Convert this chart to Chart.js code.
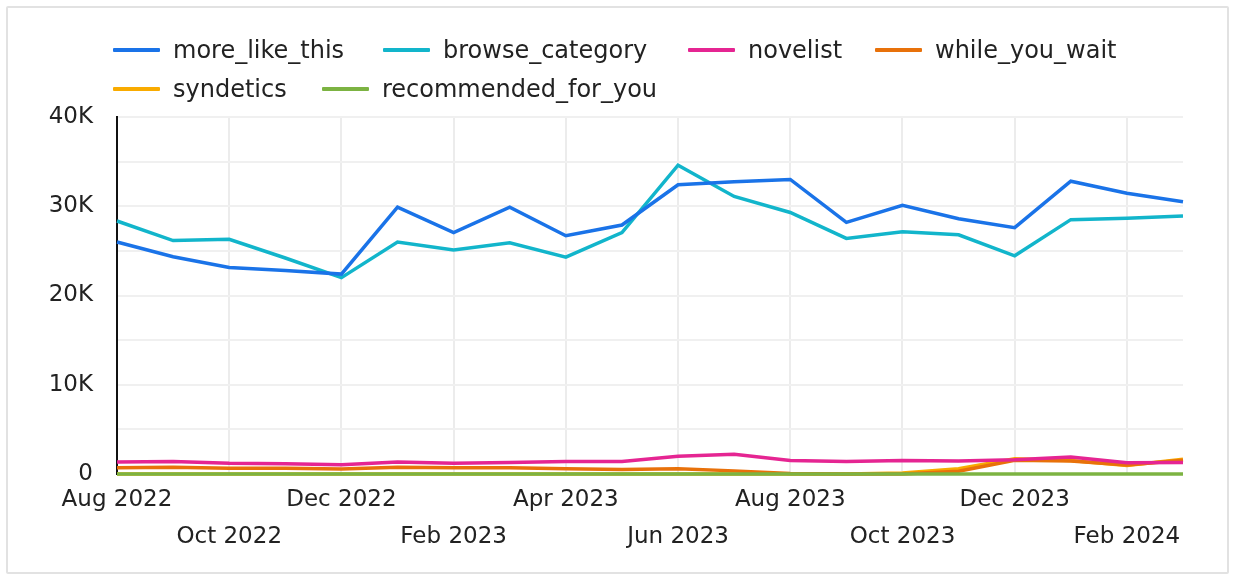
<!DOCTYPE html>
<html>
<head>
<meta charset="utf-8">
<script src="https://cdn.jsdelivr.net/npm/chart.js@4/dist/chart.umd.min.js"></script>
<style>
  html, body { margin: 0; padding: 0; background: #ffffff; }
  body { width: 1235px; height: 578px; position: relative; overflow: hidden; font-family: "DejaVu Sans", sans-serif; }
  #frame { position: absolute; left: 6px; top: 6px; width: 1219px; height: 564px; border: 2px solid #e2e2e2; border-radius: 2px; pointer-events: none; }
  #wrap { position: absolute; left: 0; top: 0; width: 1235px; height: 578px; }
  #legend { position: absolute; left: 0; top: 0; width: 1235px; height: 110px; }
  .item { position: absolute; display: flex; align-items: center; font-size: 24px; color: #222; white-space: nowrap; }
  .swatch { width: 47px; height: 4px; margin-right: 13px; border-radius: 1px; }
</style>
</head>
<body>
<div id="wrap"><canvas id="c" width="1235" height="578"></canvas></div>
<div id="legend"></div>
<div id="frame"></div>
<script>
const months = ["Aug 2022","Sep 2022","Oct 2022","Nov 2022","Dec 2022","Jan 2023","Feb 2023","Mar 2023","Apr 2023","May 2023","Jun 2023","Jul 2023","Aug 2023","Sep 2023","Oct 2023","Nov 2023","Dec 2023","Jan 2024","Feb 2024","Mar 2024"];
const moreLikeThis = [26000,24350,23150,22800,22400,29900,27050,29900,26700,27900,32400,32750,33000,28200,30100,28600,27600,32800,31450,30500];
const browseCategory = [28350,26150,26300,24200,22000,26000,25100,25900,24300,27050,34600,31100,29300,26400,27150,26800,24450,28500,28650,28900];
const novelist = [1350,1400,1200,1150,1050,1350,1200,1300,1400,1400,2000,2200,1500,1400,1500,1450,1600,1900,1250,1300];
const whileYouWait = [700,750,650,650,550,750,700,700,600,500,600,350,50,0,0,300,1550,1450,1000,1550];
const syndetics = [0,0,0,0,0,0,0,0,0,0,0,0,0,0,100,600,1700,1500,950,1650];
const recommendedForYou = [0,0,0,0,0,0,0,0,0,0,0,0,0,0,0,0,0,0,0,0];
const seriesNames = ["more_like_this","browse_category","novelist","while_you_wait","syndetics","recommended_for_you"];
const seriesColors = ["#1A73E8","#12B5CB","#E52592","#E8710A","#F9AB00","#7CB342"];
const yTicks = [0,10000,20000,30000,40000];

const seriesData = [moreLikeThis, browseCategory, novelist, whileYouWait, syndetics, recommendedForYou];
const drawOrder = [1,2,3,4,5,0];

// HTML legend
const legendPos = [[113,50],[383,50],[688,50],[875,50],[113,89],[322,89]];
const legend = document.getElementById('legend');
seriesNames.forEach((n,i)=>{
  const d = document.createElement('div');
  d.className = 'item';
  d.style.left = legendPos[i][0] + 'px';
  d.style.top = (legendPos[i][1] - 16) + 'px';
  d.style.height = '32px';
  d.innerHTML = '<span class="swatch" style="background:' + seriesColors[i] + '"></span><span>' + n + '</span>';
  legend.appendChild(d);
});

const fmtK = v => v === 0 ? '0' : (v/1000) + 'K';
const FONT = 'DejaVu Sans';

new Chart(document.getElementById('c'), {
  type: 'line',
  data: {
    labels: months,
    datasets: seriesNames.map((n,i)=>({
      label: n,
      data: seriesData[i],
      borderColor: seriesColors[i],
      backgroundColor: seriesColors[i],
      borderWidth: 3.5,
      pointRadius: 0,
      tension: 0,
      fill: false,
      clip: 4,
      order: drawOrder[i]
    }))
  },
  options: {
    responsive: false,
    animation: false,
    devicePixelRatio: 1,
    layout: { padding: { top: 117, right: 52, left: 0, bottom: 0 } },
    plugins: { legend: { display: false }, tooltip: { enabled: false } },
    scales: {
      x: {
        offset: false,
        border: { display: false },
        grid: {
          drawTicks: false,
          lineWidth: 2,
          color: ctx => (ctx.index % 2 === 0 && ctx.index > 0) ? '#ececec' : 'rgba(0,0,0,0)'
        },
        ticks: {
          autoSkip: false,
          maxRotation: 0,
          minRotation: 0,
          padding: 8,
          color: '#222',
          font: { family: FONT, size: 23, lineHeight: 1.6 },
          callback: function(v, i) {
            if (i % 2 !== 0) return '';
            const l = months[i];
            return (i % 4 === 0) ? l : ['', l];
          }
        },
        afterFit: s => { s.height = 104; }
      },
      y: {
        min: 0, max: 40000,
        border: { display: true, color: '#111', width: 2 },
        grid: { drawTicks: false, lineWidth: 2, color: '#f0f0f0' },
        ticks: {
          stepSize: 5000,
          padding: 24,
          color: '#222',
          font: { family: FONT, size: 23 },
          callback: v => yTicks.includes(v) ? fmtK(v) : ''
        },
        afterFit: s => { s.width = 117; }
      }
    }
  }
});
</script>
</body>
</html>
